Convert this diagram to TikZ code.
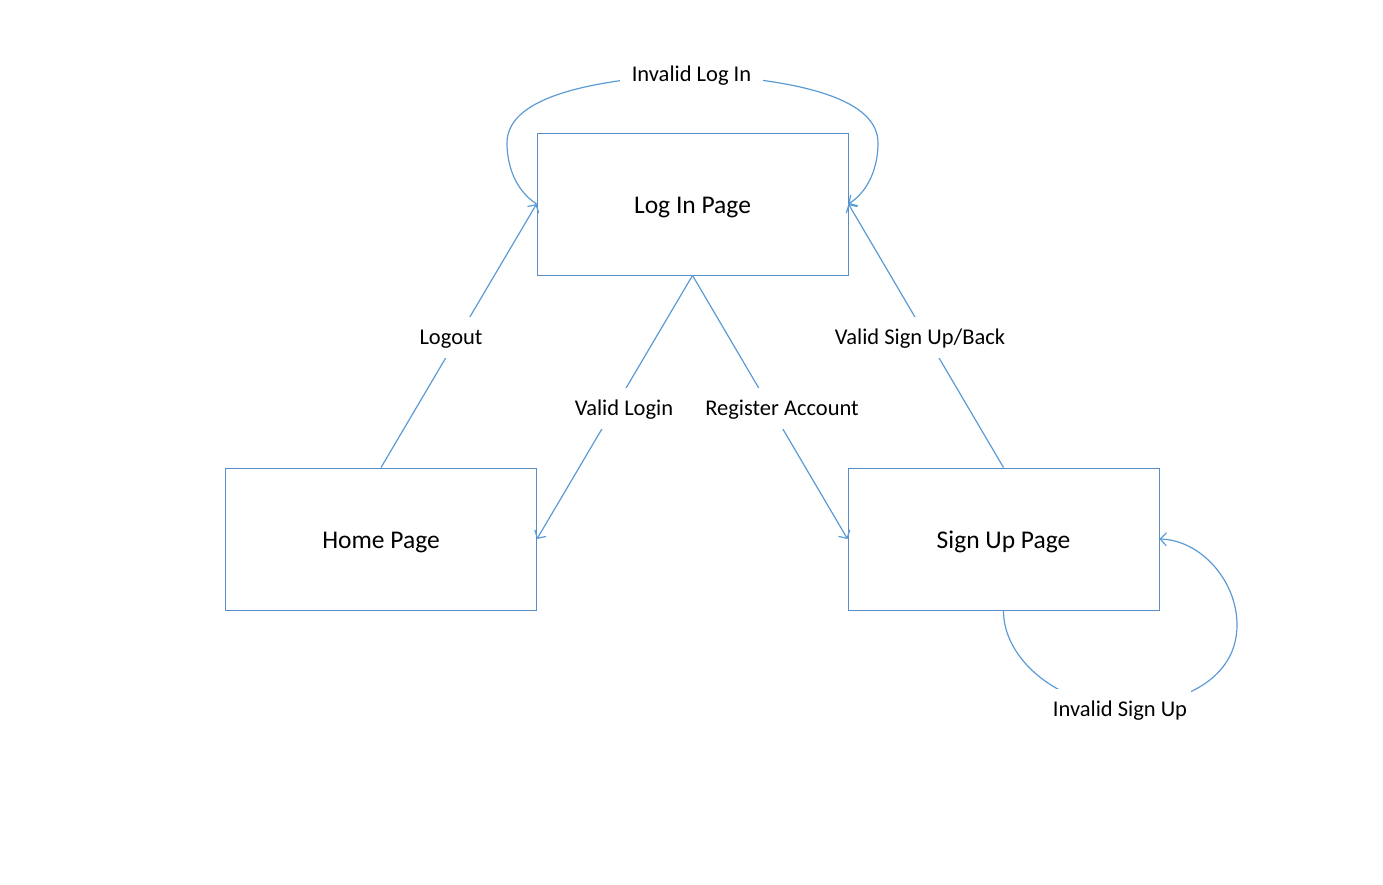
\documentclass[tikz,border=0pt]{standalone}
\usepackage{fontspec}
\setmainfont{Carlito}
\usetikzlibrary{arrows.meta}
\definecolor{boxblue}{HTML}{5A8CC6}
\definecolor{linkblue}{HTML}{5B9BD5}
\begin{document}
\begin{tikzpicture}[x=1pt,y=-1pt,
  pagebox/.style={draw=boxblue, line width=0.9pt, minimum width=311pt, minimum height=142pt, inner sep=0pt, text height=24.5pt, text depth=5.5pt, font=\fontsize{25.5}{30}\selectfont},
  link/.style={draw=linkblue, line width=1.2pt, -{Straight Barb[length=6pt,width=13pt]}},
  lbl/.style={fill=white, inner xsep=4pt, inner ysep=8pt, text height=20pt, text depth=5pt, font=\fontsize{22.5}{27}\selectfont}]
\useasboundingbox (0,0) rectangle (1383,885);

\node[pagebox] (login) at (692.5,204) {Log In Page};
\node[pagebox] (home) at (381,539) {Home Page};
\node[pagebox] (signup) at (1003.5,539) {Sign Up Page};

\draw[link] (home.north) -- (login.west);
\draw[link] (login.south) -- (home.east);
\draw[link] (login.south) -- (signup.west);
\draw[link] (signup.north) -- (login.east);

\draw[link] (login.west) .. controls (515,190) and (507,165) .. (507,143)
  .. controls (507,100) and (580,80) .. (692.5,74)
  .. controls (805,80) and (878,100) .. (878,143)
  .. controls (878,165) and (870,190) .. (login.east);

\draw[link] (signup.south) .. controls (1003,660) and (1060,705) .. (1120,706)
  .. controls (1180,706) and (1237,680) .. (1237,625)
  .. controls (1237,580) and (1200,540) .. (signup.east);

\node[lbl] (l1) at (451,337) {Logout};
\node[lbl] (l2) at (624,408) {Valid Login};
\node[lbl] (l3) at (782,408) {Register Account};
\node[lbl] (l4) at (920,337) {Valid Sign Up/Back};
\node[lbl, inner xsep=12pt] (l5) at (691.5,74) {Invalid Log In};
\node[lbl] (l6) at (1120,709) {Invalid Sign Up};
\end{tikzpicture}
\end{document}
